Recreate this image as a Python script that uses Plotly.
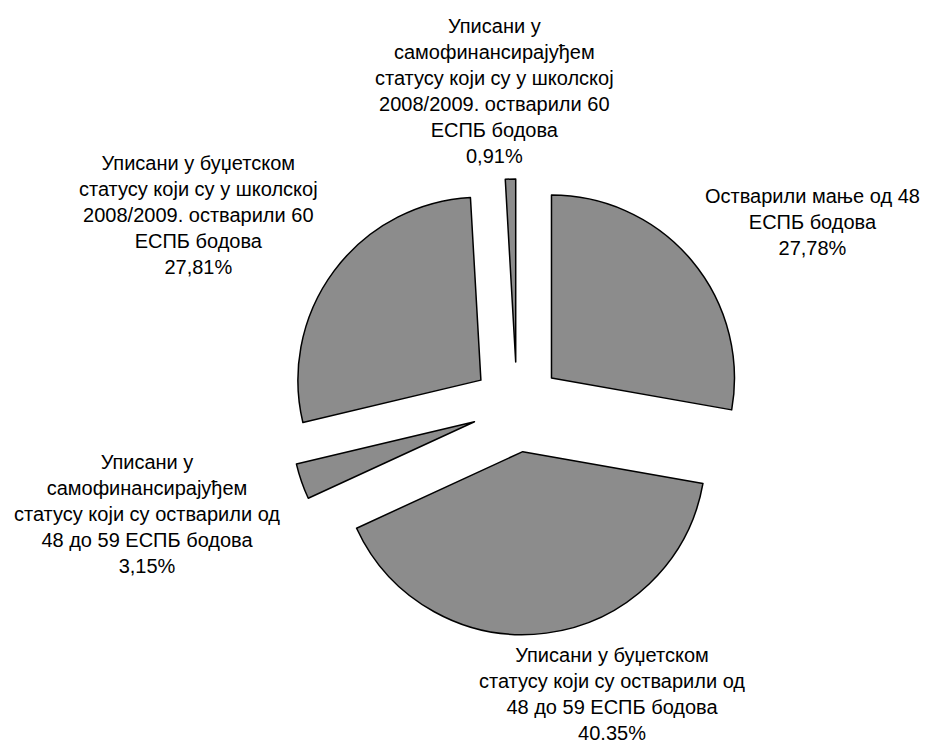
import plotly.graph_objects as go

categories = [
    "Остварили мање од 48<br>ЕСПБ бодова",
    "Уписани у буџетском<br>статусу који су остварили од<br>48 до 59 ЕСПБ бодова",
    "Уписани у<br>самофинансирајуђем<br>статусу који су остварили од<br>48 до 59 ЕСПБ бодова",
    "Уписани у буџетском<br>статусу који су у школској<br>2008/2009. остварили 60<br>ЕСПБ бодова",
    "Уписани у<br>самофинансирајуђем<br>статусу који су у школској<br>2008/2009. остварили 60<br>ЕСПБ бодова",
]
values = [27.78, 40.35, 3.15, 27.81, 0.91]
value_labels = ["27,78%", "40.35%", "3,15%", "27,81%", "0,91%"]

# label block centres in pixels (x, y from top)
label_pos = [(804, 214), (604, 686), (139, 506), (190, 207), (487, 83)]

W, H = 932, 744
cx, cy, half = 509, 399, 228

fig = go.Figure(go.Pie(
    labels=[c.replace("<br>", " ") for c in categories],
    values=values,
    sort=False,
    direction="clockwise",
    rotation=0,
    pull=[0.246] * len(values),
    textinfo="none",
    hoverinfo="label+percent",
    marker=dict(colors=["#8c8c8c"] * len(values), line=dict(color="black", width=1.5)),
    domain=dict(x=[(cx - half) / W, (cx + half) / W],
                y=[(H - cy - half) / H, (H - cy + half) / H]),
    showlegend=False,
))

for cat, vl, (px, py) in zip(categories, value_labels, label_pos):
    fig.add_annotation(
        x=px / W, y=1 - py / H, xref="paper", yref="paper",
        text=f"{cat}<br>{vl}", showarrow=False, align="center",
        xanchor="center", yanchor="middle",
        font=dict(family="Liberation Sans, Arial", size=20, color="black"),
    )

fig.update_layout(
    width=W, height=H,
    margin=dict(l=0, r=0, t=0, b=0),
    paper_bgcolor="white", plot_bgcolor="white",
)

fig.write_html("out.html")
